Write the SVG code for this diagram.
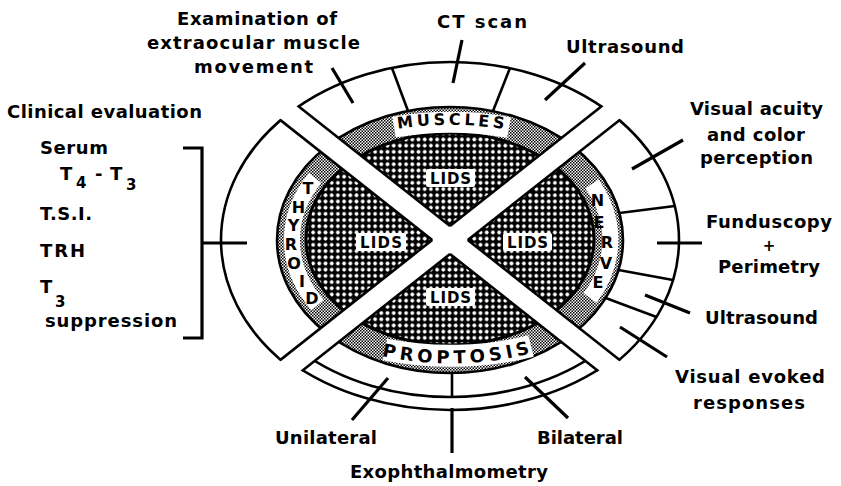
<svg xmlns="http://www.w3.org/2000/svg" width="841" height="486" viewBox="0 0 841 486">
<style>
.ring{fill:#fff;stroke:#000;stroke-width:2.6}
.gray{fill:url(#gp);stroke:#000;stroke-width:2.6}
.dots{fill:url(#dp);stroke:#000;stroke-width:3}
.edge{stroke:#000;stroke-width:2.6;fill:none}
.ln{stroke:#000;stroke-width:3.2;fill:none}
.dv{stroke:#000;stroke-width:2.6;fill:none}
.t{font-family:"DejaVu Sans","Liberation Sans",Arial,sans-serif;font-weight:bold;font-size:18px;fill:#000}
.sub{font-size:15px}
.lab{font-size:16px}
.lids{font-size:15px}
.bg{fill:none;stroke:#fff}
.box{fill:#fff}
</style>
<defs>
<pattern id="dp" patternUnits="userSpaceOnUse" width="6.2" height="6.2">
<rect width="6.2" height="6.2" fill="#000"/>
<circle cx="3.1" cy="3.1" r="1.9" fill="#fff"/>
</pattern>
<pattern id="gp" patternUnits="userSpaceOnUse" width="3" height="3">
<rect width="3" height="3" fill="#fff"/>
<rect width="1.5" height="1.5" fill="#000"/>
<rect x="1.5" y="1.5" width="1.5" height="1.5" fill="#000"/>
</pattern>
<clipPath id="wL"><polygon points="432.25,240 118.3,-7.9 118.3,487.9"/></clipPath>
<clipPath id="wT"><polygon points="450,226 136.1,-21.9 763.9,-21.9"/></clipPath>
<clipPath id="wR"><polygon points="467.75,240 781.7,-7.9 781.7,487.9"/></clipPath>
<clipPath id="wB"><polygon points="450,254 136.1,501.9 763.9,501.9"/></clipPath>
<clipPath id="eO"><ellipse cx="450" cy="240" rx="230.3" ry="179.3"/></clipPath>
<clipPath id="eB"><ellipse cx="450" cy="240" rx="230.3" ry="171.3"/></clipPath>
</defs>
<rect width="841" height="486" fill="#fff"/>

<g id="muscles">
<g clip-path="url(#wT)">
<ellipse class="ring" cx="450" cy="240" rx="229" ry="178"/>
<ellipse class="gray" cx="450" cy="240" rx="173" ry="133"/>
<ellipse class="dots" cx="450" cy="239" rx="144" ry="106"/>
</g>
<path class="bg" stroke-width="21" d="M394,127 A200,118 0 0 1 509,127.5"/>
<path id="pm" d="M388,130.6 A200,115 0 0 1 517,131.5" fill="none"/>
<text class="t lab" letter-spacing="3.5"><textPath href="#pm" startOffset="50%" text-anchor="middle">MUSCLES</textPath></text>
</g>

<g id="thyroid">
<g clip-path="url(#wL)">
<ellipse class="ring" cx="450" cy="240" rx="229" ry="178"/>
<ellipse class="gray" cx="450" cy="240" rx="173" ry="133"/>
<ellipse class="dots" cx="450" cy="239" rx="144" ry="106"/>
</g>
<path class="bg" stroke-width="16" d="M315.1,178 A158,119 0 0 0 317.6,305"/>
<g class="t lab" text-anchor="middle">
<text x="308" y="194">T</text>
<text x="298.5" y="212.5">H</text>
<text x="293.5" y="231">Y</text>
<text x="291" y="250">R</text>
<text x="294" y="269">O</text>
<text x="302" y="287">I</text>
<text x="312" y="304">D</text>
</g>
</g>

<g id="nerve">
<g clip-path="url(#wR)">
<ellipse class="ring" cx="450" cy="240" rx="229" ry="178"/>
<ellipse class="gray" cx="450" cy="240" rx="173" ry="133"/>
<ellipse class="dots" cx="450" cy="239" rx="144" ry="106"/>
</g>
<path class="bg" stroke-width="16" d="M592,184 A158,119 0 0 1 590.1,298"/>
<g class="t lab" text-anchor="middle">
<text x="597.5" y="206">N</text>
<text x="599" y="228">E</text>
<text x="607" y="248">R</text>
<text x="606" y="269">V</text>
<text x="598" y="288">E</text>
</g>
</g>

<g id="proptosis">
<g clip-path="url(#wB)">
<ellipse class="ring" cx="450" cy="240" rx="229" ry="170"/>
<ellipse class="ring" cx="450" cy="240" rx="212" ry="157"/>
<ellipse class="gray" cx="450" cy="240" rx="173" ry="133"/>
<ellipse class="dots" cx="450" cy="239" rx="144" ry="106"/>
</g>
<path class="bg" stroke-width="22" d="M385,349.5 A200,116 0 0 0 531,346"/>
<path id="pp" d="M384,356.4 A200,123 0 0 0 532,352.8" fill="none"/>
<text class="t" font-size="15" letter-spacing="4.2"><textPath href="#pp" startOffset="50%" text-anchor="middle">PROPTOSIS</textPath></text>
</g>

<g id="lids">
<rect class="box" x="426" y="169" width="49" height="18" rx="2"/>
<rect class="box" x="356" y="233" width="50" height="18" rx="2"/>
<rect class="box" x="503" y="233" width="49" height="18" rx="2"/>
<rect class="box" x="426" y="288" width="49" height="18" rx="2"/>
<g class="t lids">
<text x="430" y="183.5" textLength="41" lengthAdjust="spacing">LIDS</text>
<text x="360" y="247.5" textLength="42" lengthAdjust="spacing">LIDS</text>
<text x="507" y="247.5" textLength="41" lengthAdjust="spacing">LIDS</text>
<text x="430" y="302.5" textLength="41" lengthAdjust="spacing">LIDS</text>
</g>
</g>

<g id="connectors">
<g clip-path="url(#eO)">
<line class="edge" x1="432.25" y1="240" x2="118.3" y2="-7.9"/>
<line class="edge" x1="432.25" y1="240" x2="118.3" y2="487.9"/>
<line class="edge" x1="450" y1="226" x2="136.1" y2="-21.9"/>
<line class="edge" x1="450" y1="226" x2="763.9" y2="-21.9"/>
<line class="edge" x1="467.75" y1="240" x2="781.7" y2="-7.9"/>
<line class="edge" x1="467.75" y1="240" x2="781.7" y2="487.9"/>
</g>
<g clip-path="url(#eB)">
<line class="edge" x1="450" y1="254" x2="136.1" y2="501.9"/>
<line class="edge" x1="450" y1="254" x2="763.9" y2="501.9"/>
</g>
<line class="dv" x1="392" y1="68" x2="408" y2="111"/>
<line class="dv" x1="510" y1="68" x2="493" y2="111"/>
<line class="dv" x1="674.8" y1="206" x2="619.4" y2="213"/>
<line class="dv" x1="673" y1="280" x2="618.5" y2="270"/>
<line class="dv" x1="656.5" y1="317" x2="605.7" y2="298"/>
<line class="dv" x1="452" y1="373" x2="452" y2="397"/>
<line class="ln" x1="332" y1="68" x2="353" y2="103"/>
<line class="ln" x1="462" y1="40" x2="453" y2="83"/>
<line class="ln" x1="585" y1="63" x2="545" y2="100"/>
<path class="ln" d="M183,148 H202 V338 H183"/>
<line class="ln" x1="202" y1="243" x2="247" y2="243"/>
<line class="ln" x1="683" y1="140" x2="632" y2="169"/>
<line class="ln" x1="702" y1="243" x2="657" y2="243"/>
<line class="ln" x1="690" y1="313" x2="645" y2="295"/>
<line class="ln" x1="667" y1="357" x2="620" y2="327"/>
<line class="ln" x1="352" y1="420" x2="388" y2="378"/>
<line class="ln" x1="568" y1="418" x2="525" y2="377"/>
<line class="ln" x1="452" y1="453" x2="452" y2="408"/>
</g>

<g id="label-eom" class="t">
<text x="177" y="25" textLength="160" lengthAdjust="spacing">Examination of</text>
<text x="147" y="49" textLength="213" lengthAdjust="spacing">extraocular muscle</text>
<text x="194" y="73" textLength="119" lengthAdjust="spacing">movement</text>
</g>
<g id="label-ct" class="t"><text x="437" y="28" textLength="90" lengthAdjust="spacing">CT scan</text></g>
<g id="label-us-top" class="t"><text x="566" y="53" textLength="118" lengthAdjust="spacing">Ultrasound</text></g>
<g id="label-clinical" class="t">
<text x="7" y="118" textLength="195" lengthAdjust="spacing">Clinical evaluation</text>
<text x="40" y="154" textLength="68" lengthAdjust="spacing">Serum</text>
<text x="60" y="180">T</text><text class="sub" x="76" y="188">4</text>
<text x="95" y="180">-</text>
<text x="110" y="180">T</text><text class="sub" x="126" y="190">3</text>
<text x="40" y="220" textLength="52" lengthAdjust="spacing">T.S.I.</text>
<text x="40" y="257" textLength="45" lengthAdjust="spacing">TRH</text>
<text x="40" y="293">T</text><text class="sub" x="55" y="307">3</text>
<text x="45" y="327" textLength="132" lengthAdjust="spacing">suppression</text>
</g>
<g id="label-acuity" class="t">
<text x="690" y="115" textLength="133" lengthAdjust="spacing">Visual acuity</text>
<text x="707" y="141" textLength="98" lengthAdjust="spacing">and color</text>
<text x="700" y="164" textLength="113" lengthAdjust="spacing">perception</text>
</g>
<g id="label-fundus" class="t">
<text x="706" y="228" textLength="126" lengthAdjust="spacing">Funduscopy</text>
<text x="769" y="250.5" font-size="15" text-anchor="middle">+</text>
<text x="718" y="273" textLength="102" lengthAdjust="spacing">Perimetry</text>
</g>
<g id="label-us-right" class="t"><text x="705" y="324" textLength="113" lengthAdjust="spacing">Ultrasound</text></g>
<g id="label-vep" class="t">
<text x="675" y="383" textLength="150" lengthAdjust="spacing">Visual evoked</text>
<text x="693" y="409" textLength="112" lengthAdjust="spacing">responses</text>
</g>
<g id="label-unilateral" class="t"><text x="275" y="444" textLength="102" lengthAdjust="spacing">Unilateral</text></g>
<g id="label-bilateral" class="t"><text x="537" y="444" textLength="86" lengthAdjust="spacing">Bilateral</text></g>
<g id="label-exo" class="t"><text x="350" y="478" textLength="198" lengthAdjust="spacing">Exophthalmometry</text></g>
</svg>
